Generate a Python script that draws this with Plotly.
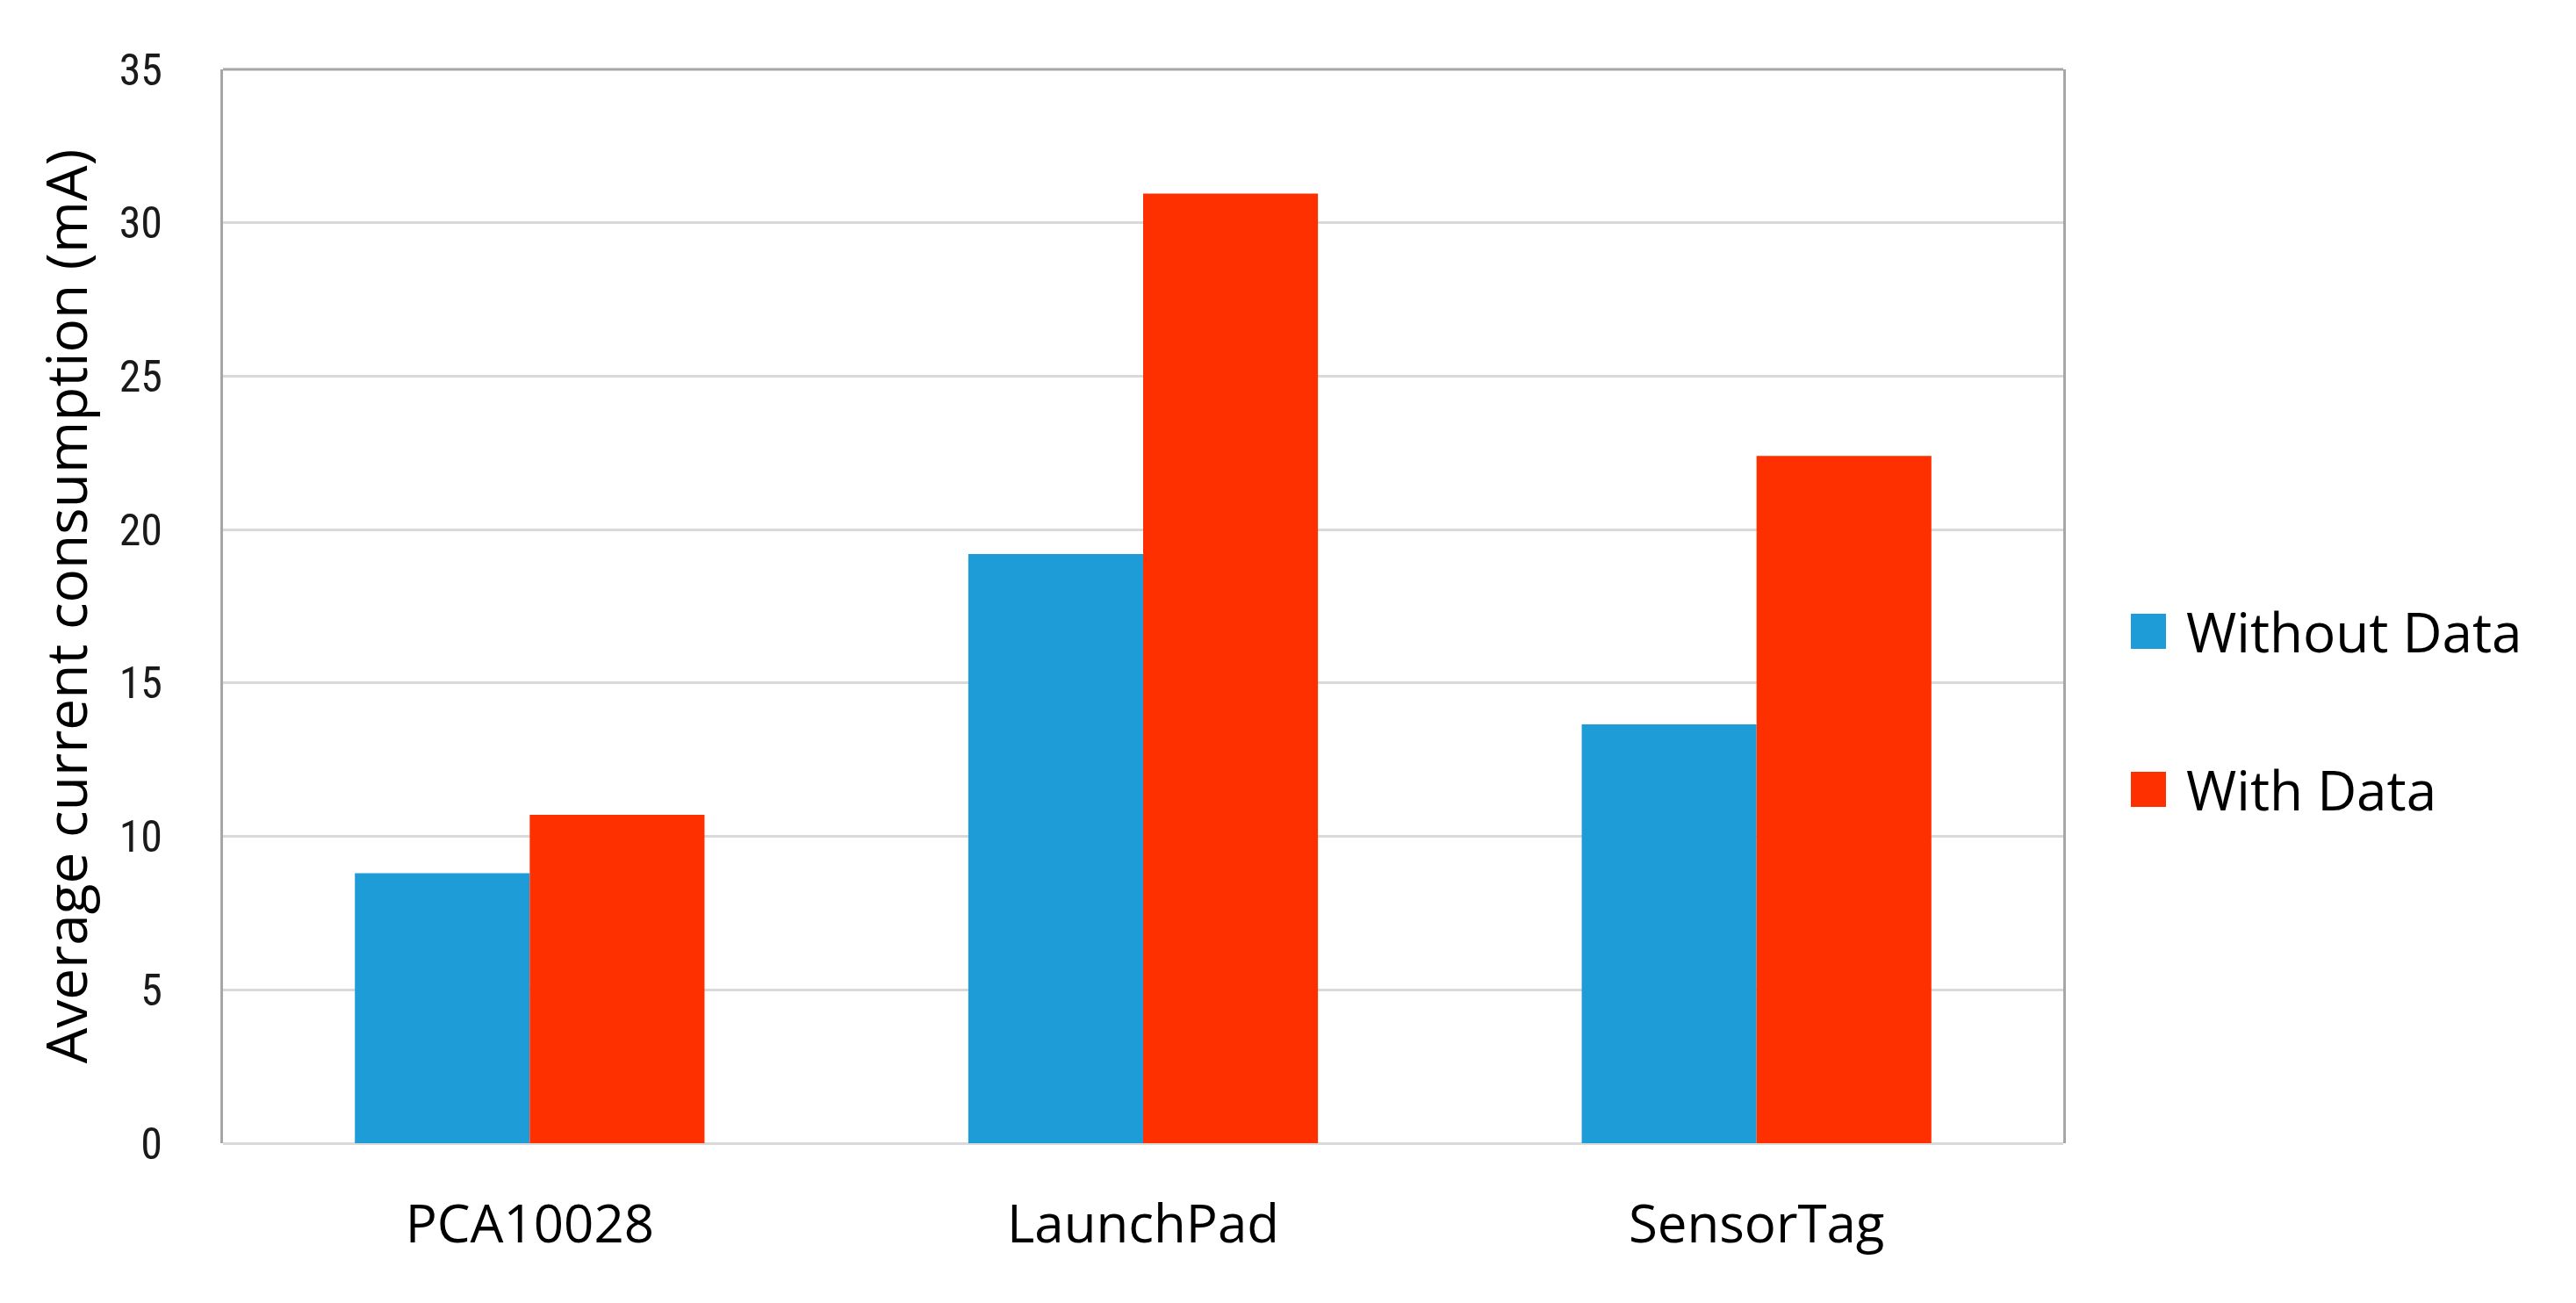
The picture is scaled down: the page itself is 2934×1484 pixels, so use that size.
import plotly.graph_objects as go

categories = ["PCA10028", "LaunchPad", "SensorTag"]
series_names = ["Without Data", "With Data"]
without_data = [8.8, 19.2, 13.65]
with_data = [10.7, 30.95, 22.4]
series_colors = ["#1E9CD7", "#FF3000"]
y_ticks = [0, 5, 10, 15, 20, 25, 30, 35]

W, H = 2934, 1484
L, R, T, B = 254, 584, 79, 182

fig = go.Figure()
for name, vals, col in zip(series_names, [without_data, with_data], series_colors):
    fig.add_trace(go.Bar(x=categories, y=vals, name=name, marker=dict(color=col, line=dict(width=0)),
                         showlegend=False))

fig.update_layout(
    width=W, height=H,
    margin=dict(l=L, r=R, t=T, b=B, pad=0),
    paper_bgcolor="white", plot_bgcolor="white",
    barmode="group", bargap=0.43, bargroupgap=0,
    font=dict(family="Open Sans, Noto Sans, sans-serif", color="#000000"),
)
fig.update_yaxes(
    range=[0, 35], tickvals=y_ticks, ticktext=[str(v) for v in y_ticks],
    showgrid=True, gridcolor="#D9D9D9", gridwidth=3,
    zeroline=True, zerolinecolor="#D9D9D9", zerolinewidth=3,
    showline=True, linecolor="#A6A6A6", linewidth=3, mirror=True,
    ticks="", ticklabelstandoff=56,
    tickfont=dict(family="Liberation Sans Narrow, Roboto Condensed, Arial Narrow, sans-serif", size=50, color="#1A1A1A"),
    title=dict(text="Average current consumption (mA)", standoff=16,
               font=dict(family="Open Sans, Noto Sans, sans-serif", size=64, color="#000000")),
)
fig.update_xaxes(
    showline=False, showgrid=False, ticks="", ticklabelstandoff=52,
    tickfont=dict(family="Open Sans, Noto Sans, sans-serif", size=60, color="#000000"),
)
# top border of the plot frame
fig.add_shape(type="line", xref="paper", yref="paper", x0=0, x1=1, y0=1, y1=1,
              line=dict(color="#A6A6A6", width=3))

# legend (drawn to match the large swatches)
leg_x0 = (2427 - L) / (W - L - R)
sw_w = 40 / (W - L - R)
sw_h = 40 / (H - T - B)
leg_y = [1 - (719 - T) / (H - T - B), 1 - (899 - T) / (H - T - B)]
for name, col, yc in zip(series_names, series_colors, leg_y):
    fig.add_shape(type="rect", xref="paper", yref="paper",
                  x0=leg_x0, x1=leg_x0 + sw_w, y0=yc - sw_h / 2, y1=yc + sw_h / 2,
                  fillcolor=col, line=dict(width=0))
    fig.add_annotation(xref="paper", yref="paper", x=leg_x0 + sw_w + 21 / (W - L - R), y=yc,
                       xanchor="left", yanchor="middle", showarrow=False, text=name,
                       font=dict(family="Open Sans, Noto Sans, sans-serif", size=62, color="#000000"))

fig.write_html("out.html", config={"displayModeBar": False},
               post_script="document.body.style.margin='0px';document.body.style.overflow='hidden';")
